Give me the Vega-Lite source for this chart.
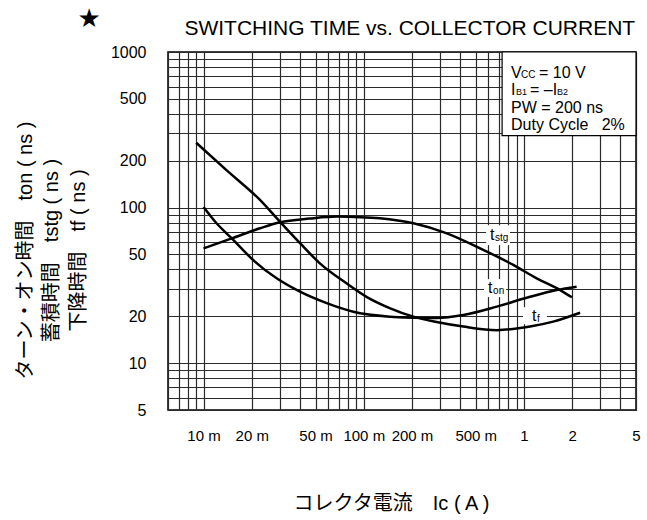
{
  "$schema": "https://vega.github.io/schema/vega-lite/v6.json",
  "width": 468,
  "height": 358,
  "autosize": {"type": "none"},
  "padding": {"left": 168, "top": 52, "right": 11, "bottom": 110},
  "background": "white",
  "config": {
    "font": "Liberation Sans, Noto Sans CJK JP, sans-serif",
    "view": {"stroke": "#000", "strokeWidth": 1.5},
    "axis": {
      "grid": true, "gridColor": "#2a2a2a", "gridWidth": 1.2, "ticks": false, "tickSize": 0, "domain": false,
      "labelColor": "#000", "titleColor": "#000", "titleFontWeight": "normal",
      "labelFont": "Liberation Sans, Noto Sans CJK JP, sans-serif",
      "titleFont": "Liberation Sans, Noto Sans CJK JP, sans-serif"
    }
  },
  "title": {"text": "SWITCHING TIME vs. COLLECTOR CURRENT", "anchor": "end", "fontSize": 21, "fontWeight": "normal", "font": "Liberation Sans", "color": "#000", "offset": -33, "dx": -5},
  "layer": [
    {
      "data": {"values": [{}]},
      "mark": {"type": "rect", "fill": "white"},
      "encoding": {
        "x": {"datum": 0.58, "type": "quantitative", "scale": {"type": "log", "domain": [0.006, 5]}},
        "x2": {"datum": 0.818},
        "y": {"datum": 57.4, "type": "quantitative", "scale": {"type": "log", "domain": [5, 1000]}},
        "y2": {"datum": 77}
      }
    },
    {
      "data": {"values": [{}]},
      "mark": {"type": "rect", "fill": "white"},
      "encoding": {
        "x": {"datum": 0.563, "type": "quantitative", "scale": {"type": "log", "domain": [0.006, 5]}},
        "x2": {"datum": 0.773},
        "y": {"datum": 26.6, "type": "quantitative", "scale": {"type": "log", "domain": [5, 1000]}},
        "y2": {"datum": 34.7}
      }
    },
    {
      "data": {"values": [{}]},
      "mark": {"type": "rect", "fill": "white"},
      "encoding": {
        "x": {"datum": 0.986, "type": "quantitative", "scale": {"type": "log", "domain": [0.006, 5]}},
        "x2": {"datum": 1.39},
        "y": {"datum": 17.8, "type": "quantitative", "scale": {"type": "log", "domain": [5, 1000]}},
        "y2": {"datum": 22.9}
      }
    },
    {
      "data": {"values": [
        {"series": "tstg", "ic": 0.01, "t": 54.7},
        {"series": "tstg", "ic": 0.015, "t": 63.4},
        {"series": "tstg", "ic": 0.0225, "t": 73.6},
        {"series": "tstg", "ic": 0.030, "t": 80.5},
        {"series": "tstg", "ic": 0.046, "t": 85.0},
        {"series": "tstg", "ic": 0.068, "t": 87.5},
        {"series": "tstg", "ic": 0.095, "t": 86.8},
        {"series": "tstg", "ic": 0.126, "t": 85.3},
        {"series": "tstg", "ic": 0.204, "t": 79.2},
        {"series": "tstg", "ic": 0.33, "t": 68.3},
        {"series": "tstg", "ic": 0.532, "t": 54.7},
        {"series": "tstg", "ic": 0.858, "t": 42.8},
        {"series": "tstg", "ic": 1.2, "t": 35.1},
        {"series": "tstg", "ic": 1.68, "t": 29.5},
        {"series": "tstg", "ic": 1.99, "t": 26.5},
        {"series": "ton", "ic": 0.01, "t": 101},
        {"series": "ton", "ic": 0.0121, "t": 79},
        {"series": "ton", "ic": 0.015, "t": 63.4},
        {"series": "ton", "ic": 0.0204, "t": 46},
        {"series": "ton", "ic": 0.0286, "t": 35.1},
        {"series": "ton", "ic": 0.040, "t": 28.8},
        {"series": "ton", "ic": 0.0587, "t": 24.3},
        {"series": "ton", "ic": 0.086, "t": 21.4},
        {"series": "ton", "ic": 0.146, "t": 19.9},
        {"series": "ton", "ic": 0.204, "t": 19.6},
        {"series": "ton", "ic": 0.285, "t": 19.5},
        {"series": "ton", "ic": 0.418, "t": 20.4},
        {"series": "ton", "ic": 0.676, "t": 23.1},
        {"series": "ton", "ic": 1.09, "t": 26.7},
        {"series": "ton", "ic": 1.6, "t": 29.5},
        {"series": "ton", "ic": 2.13, "t": 31},
        {"series": "tf", "ic": 0.009, "t": 261},
        {"series": "tf", "ic": 0.0139, "t": 174},
        {"series": "tf", "ic": 0.0225, "t": 112},
        {"series": "tf", "ic": 0.030, "t": 81},
        {"series": "tf", "ic": 0.040, "t": 59},
        {"series": "tf", "ic": 0.053, "t": 44},
        {"series": "tf", "ic": 0.078, "t": 32.6},
        {"series": "tf", "ic": 0.104, "t": 26.7},
        {"series": "tf", "ic": 0.145, "t": 22.6},
        {"series": "tf", "ic": 0.204, "t": 19.9},
        {"series": "tf", "ic": 0.285, "t": 18.4},
        {"series": "tf", "ic": 0.418, "t": 17.2},
        {"series": "tf", "ic": 0.676, "t": 16.3},
        {"series": "tf", "ic": 1.09, "t": 17.2},
        {"series": "tf", "ic": 1.52, "t": 18.5},
        {"series": "tf", "ic": 2.24, "t": 21.1}
      ]},
      "mark": {"type": "line", "color": "#000", "strokeWidth": 2.5, "interpolate": "monotone"},
      "encoding": {
        "x": {
          "field": "ic", "type": "quantitative",
          "scale": {"type": "log", "domain": [0.006, 5]},
          "axis": {
            "values": [0.006, 0.007, 0.008, 0.009, 0.01, 0.02, 0.03, 0.04, 0.05, 0.06, 0.07, 0.08, 0.09, 0.1, 0.2, 0.3, 0.4, 0.5, 0.6, 0.7, 0.8, 0.9, 1, 2, 3, 4, 5],
            "labelExpr": "datum.value==0.01?'10 m':datum.value==0.02?'20 m':datum.value==0.05?'50 m':datum.value==0.1?'100 m':datum.value==0.2?'200 m':datum.value==0.5?'500 m':datum.value==1?'1':datum.value==2?'2':datum.value==5?'5':''",
            "labelFontSize": 15, "labelPadding": 18, "labelOverlap": false, "labelFlush": false,
            "title": "コレクタ電流　Ic ( A )", "titleFontSize": 20, "titlePadding": 50, "titleX": 223
          }
        },
        "y": {
          "field": "t", "type": "quantitative",
          "scale": {"type": "log", "domain": [5, 1000]},
          "axis": {
            "values": [5, 6, 7, 8, 9, 10, 20, 30, 40, 50, 60, 70, 80, 90, 100, 200, 300, 400, 500, 600, 700, 800, 900, 1000],
            "labelExpr": "indexof([5,10,20,50,100,200,500,1000], datum.value) >= 0 ? '' + datum.value : ''",
            "labelFontSize": 16, "labelPadding": 22, "labelOverlap": false, "labelFlush": false,
            "title": ["ターン・オン時間　ton ( ns )", "蓄積時間　tstg ( ns )", "下降時間　tf ( ns )"],
            "titleFontSize": 20, "titleLineHeight": 26.5, "titlePadding": 22, "titleY": 198
          }
        },
        "detail": {"field": "series"}
      }
    },
    {
      "data": {"values": [{}]},
      "mark": {"type": "rect", "fill": "white", "stroke": "#000", "strokeWidth": 1.2},
      "encoding": {
        "x": {"datum": 0.73, "type": "quantitative", "scale": {"type": "log", "domain": [0.006, 5]}},
        "x2": {"datum": 5},
        "y": {"datum": 290, "type": "quantitative", "scale": {"type": "log", "domain": [5, 1000]}},
        "y2": {"datum": 1000}
      }
    },
    {
      "data": {"values": [{}]},
      "mark": {"type": "text", "text": "V", "fontSize": 16, "align": "left", "baseline": "alphabetic", "color": "#000"},
      "encoding": {"x": {"datum": 0.83, "type": "quantitative", "scale": {"type": "log", "domain": [0.006, 5]}}, "y": {"datum": 680, "type": "quantitative", "scale": {"type": "log", "domain": [5, 1000]}}}
    },
    {
      "data": {"values": [{}]},
      "mark": {"type": "text", "text": "CC", "fontSize": 10, "dx": 10, "align": "left", "baseline": "alphabetic", "color": "#000"},
      "encoding": {"x": {"datum": 0.83, "type": "quantitative", "scale": {"type": "log", "domain": [0.006, 5]}}, "y": {"datum": 680, "type": "quantitative", "scale": {"type": "log", "domain": [5, 1000]}}}
    },
    {
      "data": {"values": [{}]},
      "mark": {"type": "text", "text": "= 10 V", "fontSize": 16, "dx": 28, "align": "left", "baseline": "alphabetic", "color": "#000"},
      "encoding": {"x": {"datum": 0.83, "type": "quantitative", "scale": {"type": "log", "domain": [0.006, 5]}}, "y": {"datum": 680, "type": "quantitative", "scale": {"type": "log", "domain": [5, 1000]}}}
    },
    {
      "data": {"values": [{}]},
      "mark": {"type": "text", "text": "I", "fontSize": 16, "align": "left", "baseline": "alphabetic", "color": "#000"},
      "encoding": {"x": {"datum": 0.83, "type": "quantitative", "scale": {"type": "log", "domain": [0.006, 5]}}, "y": {"datum": 530, "type": "quantitative", "scale": {"type": "log", "domain": [5, 1000]}}}
    },
    {
      "data": {"values": [{}]},
      "mark": {"type": "text", "text": "B1", "fontSize": 9, "dx": 5, "align": "left", "baseline": "alphabetic", "color": "#000"},
      "encoding": {"x": {"datum": 0.83, "type": "quantitative", "scale": {"type": "log", "domain": [0.006, 5]}}, "y": {"datum": 530, "type": "quantitative", "scale": {"type": "log", "domain": [5, 1000]}}}
    },
    {
      "data": {"values": [{}]},
      "mark": {"type": "text", "text": "= –I", "fontSize": 16, "dx": 19, "align": "left", "baseline": "alphabetic", "color": "#000"},
      "encoding": {"x": {"datum": 0.83, "type": "quantitative", "scale": {"type": "log", "domain": [0.006, 5]}}, "y": {"datum": 530, "type": "quantitative", "scale": {"type": "log", "domain": [5, 1000]}}}
    },
    {
      "data": {"values": [{}]},
      "mark": {"type": "text", "text": "B2", "fontSize": 9, "dx": 46, "align": "left", "baseline": "alphabetic", "color": "#000"},
      "encoding": {"x": {"datum": 0.83, "type": "quantitative", "scale": {"type": "log", "domain": [0.006, 5]}}, "y": {"datum": 530, "type": "quantitative", "scale": {"type": "log", "domain": [5, 1000]}}}
    },
    {
      "data": {"values": [{}]},
      "mark": {"type": "text", "text": "PW = 200 ns", "fontSize": 16, "align": "left", "baseline": "alphabetic", "color": "#000"},
      "encoding": {"x": {"datum": 0.83, "type": "quantitative", "scale": {"type": "log", "domain": [0.006, 5]}}, "y": {"datum": 405, "type": "quantitative", "scale": {"type": "log", "domain": [5, 1000]}}}
    },
    {
      "data": {"values": [{}]},
      "mark": {"type": "text", "text": "Duty Cycle\u00a0\u00a0\u00a02%", "fontSize": 16, "align": "left", "baseline": "alphabetic", "color": "#000"},
      "encoding": {"x": {"datum": 0.83, "type": "quantitative", "scale": {"type": "log", "domain": [0.006, 5]}}, "y": {"datum": 315, "type": "quantitative", "scale": {"type": "log", "domain": [5, 1000]}}}
    },
    {
      "data": {"values": [{}]},
      "mark": {"type": "text", "text": "t", "fontSize": 16, "align": "left", "baseline": "alphabetic", "color": "#000"},
      "encoding": {"x": {"datum": 0.614, "type": "quantitative", "scale": {"type": "log", "domain": [0.006, 5]}}, "y": {"datum": 61.9, "type": "quantitative", "scale": {"type": "log", "domain": [5, 1000]}}}
    },
    {
      "data": {"values": [{}]},
      "mark": {"type": "text", "text": "stg", "fontSize": 10, "dx": 5, "dy": 1, "align": "left", "baseline": "alphabetic", "color": "#000"},
      "encoding": {"x": {"datum": 0.614, "type": "quantitative", "scale": {"type": "log", "domain": [0.006, 5]}}, "y": {"datum": 61.9, "type": "quantitative", "scale": {"type": "log", "domain": [5, 1000]}}}
    },
    {
      "data": {"values": [{}]},
      "mark": {"type": "text", "text": "t", "fontSize": 16, "align": "left", "baseline": "alphabetic", "color": "#000"},
      "encoding": {"x": {"datum": 0.597, "type": "quantitative", "scale": {"type": "log", "domain": [0.006, 5]}}, "y": {"datum": 28.1, "type": "quantitative", "scale": {"type": "log", "domain": [5, 1000]}}}
    },
    {
      "data": {"values": [{}]},
      "mark": {"type": "text", "text": "on", "fontSize": 10, "dx": 5, "dy": 1, "align": "left", "baseline": "alphabetic", "color": "#000"},
      "encoding": {"x": {"datum": 0.597, "type": "quantitative", "scale": {"type": "log", "domain": [0.006, 5]}}, "y": {"datum": 28.1, "type": "quantitative", "scale": {"type": "log", "domain": [5, 1000]}}}
    },
    {
      "data": {"values": [{}]},
      "mark": {"type": "text", "text": "t", "fontSize": 16, "align": "left", "baseline": "alphabetic", "color": "#000"},
      "encoding": {"x": {"datum": 1.12, "type": "quantitative", "scale": {"type": "log", "domain": [0.006, 5]}}, "y": {"datum": 18.7, "type": "quantitative", "scale": {"type": "log", "domain": [5, 1000]}}}
    },
    {
      "data": {"values": [{}]},
      "mark": {"type": "text", "text": "f", "fontSize": 10, "dx": 5, "dy": 1, "align": "left", "baseline": "alphabetic", "color": "#000"},
      "encoding": {"x": {"datum": 1.12, "type": "quantitative", "scale": {"type": "log", "domain": [0.006, 5]}}, "y": {"datum": 18.7, "type": "quantitative", "scale": {"type": "log", "domain": [5, 1000]}}}
    },
    {
      "data": {"values": [{}]},
      "mark": {"type": "text", "text": "★", "font": "DejaVu Sans", "fontSize": 26, "align": "center", "baseline": "middle", "color": "#000"},
      "encoding": {"x": {"datum": 0.00193, "type": "quantitative", "scale": {"type": "log", "domain": [0.006, 5]}}, "y": {"datum": 1620, "type": "quantitative", "scale": {"type": "log", "domain": [5, 1000]}}}
    }
  ]
}
